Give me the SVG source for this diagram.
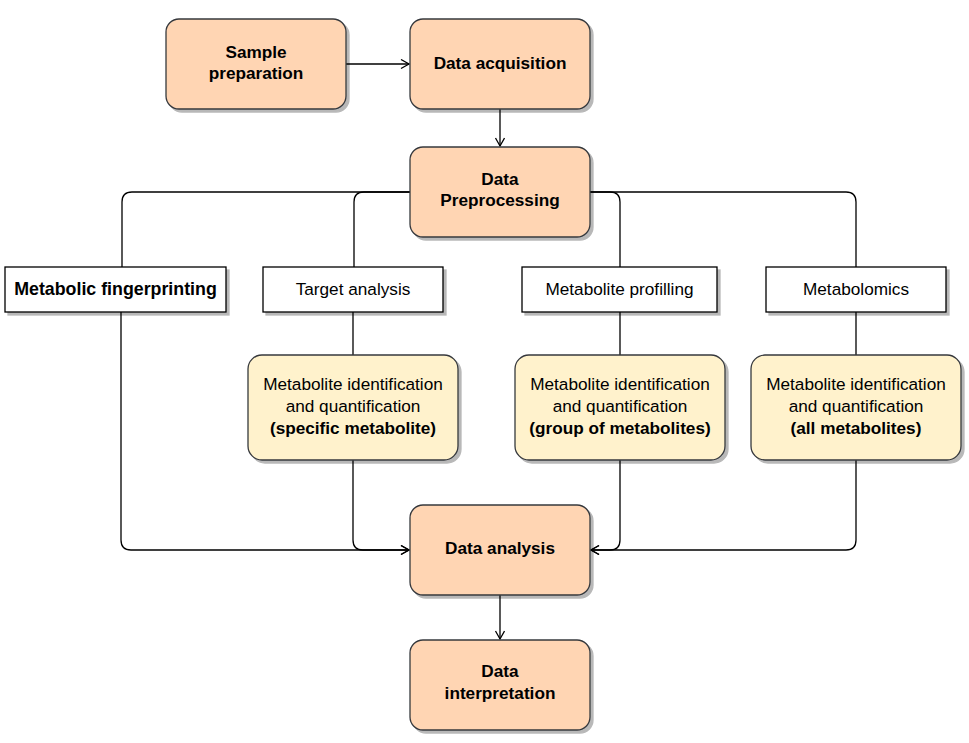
<svg xmlns="http://www.w3.org/2000/svg" width="969" height="743" viewBox="0 0 969 743">
<style>
.o{fill:#FFD5B3;stroke:#36393d;stroke-width:1.3;}
.y{fill:#FFF2CC;stroke:#36393d;stroke-width:1.3;}
.w{fill:#ffffff;stroke:#000000;stroke-width:1.3;}
.e{fill:none;stroke:#000000;stroke-width:1.3;}
text{font-family:"Liberation Sans",Arial,Helvetica,sans-serif;font-size:17.2px;fill:#000;text-anchor:middle;}
.b{font-weight:bold;}
</style>
<defs>
<filter id="sh" x="-10%" y="-10%" width="130%" height="140%">
<feDropShadow dx="3" dy="3" stdDeviation="0.6" flood-color="#000" flood-opacity="0.28"/>
</filter>
<marker id="ar" markerWidth="12" markerHeight="12" refX="9" refY="5" orient="auto" markerUnits="userSpaceOnUse">
<path d="M1,0.5 L9,5 L1,9.5" fill="none" stroke="#000" stroke-width="1.3"/>
</marker>
</defs>
<g id="connectors">
<path class="e" d="M346,64 L409,64" marker-end="url(#ar)"/>
<path class="e" d="M500,109 L500,146" marker-end="url(#ar)"/>
<path class="e" d="M410,192 L132,192 Q122,192 122,202 L122,267"/>
<path class="e" d="M410,192 L364,192 Q354,192 354,202 L354,267"/>
<path class="e" d="M590,192 L610,192 Q620,192 620,202 L620,267"/>
<path class="e" d="M590,192 L846,192 Q856,192 856,202 L856,267"/>
<path class="e" d="M121,312 L121,540 Q121,550 131,550 L409,550" marker-end="url(#ar)"/>
<path class="e" d="M353,312 L353,355"/>
<path class="e" d="M353,460 L353,540 Q353,550 363,550 L409,550" marker-end="url(#ar)"/>
<path class="e" d="M620,312 L620,355"/>
<path class="e" d="M620,460 L620,540 Q620,550 610,550 L591,550" marker-end="url(#ar)"/>
<path class="e" d="M856,312 L856,355"/>
<path class="e" d="M856,460 L856,540 Q856,550 846,550 L591,550" marker-end="url(#ar)"/>
<path class="e" d="M500,595 L500,639" marker-end="url(#ar)"/>
</g>
<g id="sample-preparation">
<rect class="o" x="166" y="19" width="180" height="90" rx="13" filter="url(#sh)"/>
<text class="b" x="256" y="58">Sample</text>
<text class="b" x="256" y="79">preparation</text>
</g>
<g id="data-acquisition">
<rect class="o" x="410" y="19" width="180" height="90" rx="13" filter="url(#sh)"/>
<text class="b" x="500" y="69">Data acquisition</text>
</g>
<g id="data-preprocessing">
<rect class="o" x="410" y="147" width="180" height="90" rx="13" filter="url(#sh)"/>
<text class="b" x="500" y="185">Data</text>
<text class="b" x="500" y="206">Preprocessing</text>
</g>
<g id="metabolic-fingerprinting">
<rect class="w" x="5" y="267" width="221" height="45" filter="url(#sh)"/>
<text class="b" x="115.5" y="295" style="font-size:17.8px">Metabolic fingerprinting</text>
</g>
<g id="target-analysis">
<rect class="w" x="263" y="267" width="180" height="45" filter="url(#sh)"/>
<text x="353" y="295">Target analysis</text>
</g>
<g id="metabolite-profiling">
<rect class="w" x="522" y="267" width="195" height="45" filter="url(#sh)"/>
<text x="619.5" y="295">Metabolite profilling</text>
</g>
<g id="metabolomics">
<rect class="w" x="766" y="267" width="180" height="45" filter="url(#sh)"/>
<text x="856" y="295">Metabolomics</text>
</g>
<g id="id-specific">
<rect class="y" x="248" y="355" width="210" height="105" rx="14" filter="url(#sh)"/>
<text x="353" y="390">Metabolite identification</text>
<text x="353" y="412">and quantification</text>
<text class="b" x="353" y="434">(specific metabolite)</text>
</g>
<g id="id-group">
<rect class="y" x="515" y="355" width="210" height="105" rx="14" filter="url(#sh)"/>
<text x="620" y="390">Metabolite identification</text>
<text x="620" y="412">and quantification</text>
<text class="b" x="620" y="434">(group of metabolites)</text>
</g>
<g id="id-all">
<rect class="y" x="751" y="355" width="210" height="105" rx="14" filter="url(#sh)"/>
<text x="856" y="390">Metabolite identification</text>
<text x="856" y="412">and quantification</text>
<text class="b" x="856" y="434">(all metabolites)</text>
</g>
<g id="data-analysis">
<rect class="o" x="410" y="505" width="180" height="90" rx="13" filter="url(#sh)"/>
<text class="b" x="500" y="554">Data analysis</text>
</g>
<g id="data-interpretation">
<rect class="o" x="410" y="640" width="180" height="90" rx="13" filter="url(#sh)"/>
<text class="b" x="500" y="677">Data</text>
<text class="b" x="500" y="699">interpretation</text>
</g>
</svg>
